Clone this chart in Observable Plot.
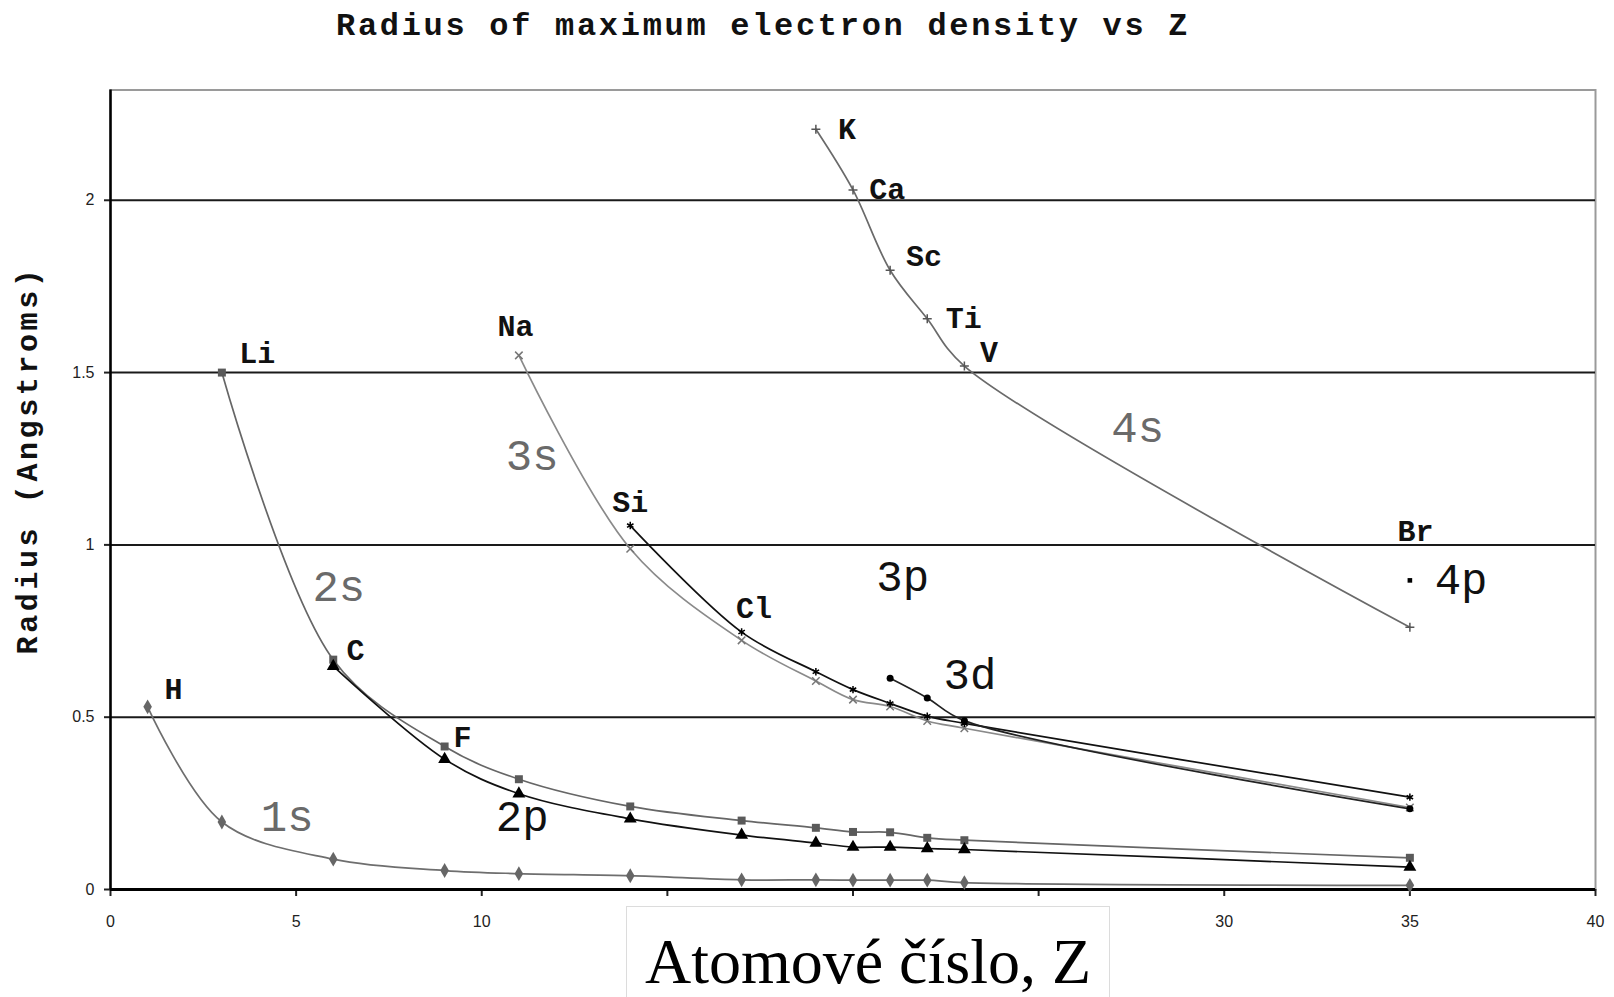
<!DOCTYPE html>
<html><head><meta charset="utf-8">
<script src="https://cdn.jsdelivr.net/npm/d3@7"></script>
<script src="https://cdn.jsdelivr.net/npm/@observablehq/plot@0.6"></script>
<style>
html,body{margin:0;padding:0;background:#fff;}
#wrap{position:relative;width:1614px;height:997px;overflow:hidden;background:#fff;}
#chart{position:absolute;left:0;top:60px;z-index:0;}
#title{position:absolute;z-index:2;left:336px;top:11px;font:bold 32px "Liberation Mono",monospace;line-height:32px;letter-spacing:2.7px;white-space:nowrap;color:#111;}
#ylab{position:absolute;z-index:2;left:29px;top:460px;transform:translate(-50%,-50%) rotate(-90deg);font:bold 30px "Liberation Mono",monospace;line-height:30px;letter-spacing:3.6px;white-space:nowrap;color:#111;}
#xbox{position:absolute;z-index:3;left:626px;top:906px;width:484px;height:95px;box-sizing:border-box;border:1px solid #dcdcdc;background:#fff;}
#xlab{position:absolute;left:0;top:23px;width:100%;text-align:center;font:64px "Liberation Serif",serif;line-height:64px;white-space:nowrap;color:#000;}
</style></head>
<body>
<div id="wrap">
  <div id="chart"></div>
  <div id="title">Radius of maximum electron density vs Z</div>
  <div id="ylab">Radius (Angstroms)</div>
  <div id="xbox"><div id="xlab">Atomové číslo, Z</div></div>
</div>
<script>
// ---- data ----
const z1s = [1, 3, 6, 9, 11, 14, 17, 19, 20, 21, 22, 23, 35];
const r1s = [0.530, 0.196, 0.088, 0.055, 0.046, 0.040, 0.028, 0.028, 0.027, 0.027, 0.027, 0.020, 0.012];

const z2s = [3, 6, 9, 11, 14, 17, 19, 20, 21, 22, 23, 35];
const r2s = [1.500, 0.667, 0.415, 0.320, 0.241, 0.200, 0.179, 0.167, 0.166, 0.150, 0.143, 0.092];

const z2p = [6, 9, 11, 14, 17, 19, 20, 21, 22, 23, 35];
const r2p = [0.648, 0.378, 0.278, 0.205, 0.158, 0.135, 0.123, 0.123, 0.119, 0.116, 0.065];

const z3s = [11, 14, 17, 19, 20, 21, 22, 23, 35];
const r3s = [1.550, 0.989, 0.723, 0.605, 0.551, 0.531, 0.489, 0.468, 0.238];

const z3p = [14, 17, 19, 20, 21, 22, 23, 35];
const r3p = [1.056, 0.747, 0.632, 0.580, 0.540, 0.503, 0.482, 0.268];

const z3d = [21, 22, 23, 35];
const r3d = [0.613, 0.556, 0.490, 0.234];

const z4s = [19, 20, 21, 22, 23, 35];
const r4s = [2.206, 2.030, 1.797, 1.656, 1.519, 0.761];

const z4p = [35];
const r4p = [0.897];

const elementNames = ["H", "Li", "C", "F", "Na", "Si", "Cl", "K", "Ca", "Sc", "Ti", "V", "Br"];
const elementLabelZ = [1.70, 3.95, 6.60, 9.48, 10.91, 14.0, 17.33, 19.84, 20.92, 21.91, 22.98, 23.66, 35.15];
const elementLabelR = [0.580, 1.556, 0.695, 0.442, 1.633, 1.124, 0.816, 2.207, 2.033, 1.836, 1.656, 1.560, 1.040];

const orbitalNames  = ["1s", "2s", "2p", "3s", "3p", "3d", "4s", "4p"];
const orbitalLabelZ = [4.76, 6.15, 11.09, 11.36, 21.34, 23.15, 27.67, 36.38];
const orbitalLabelR = [0.210, 0.877, 0.210, 1.259, 0.907, 0.624, 1.340, 0.897];

const yTicks = [0, 0.5, 1, 1.5, 2];
const xTicks = [0, 5, 10, 15, 20, 25, 30, 35, 40];
const xTicksCovered = [15, 20, 25]; // labels hidden behind the axis-title box in the original

// ---- styles ----
const seriesList = [
  {name: "1s", z: z1s, r: r1s, line: "#6e6e6e", sym: "diamond", mfill: "#666", mstroke: "none", mr: 4.5},
  {name: "2s", z: z2s, r: r2s, line: "#666",    sym: "square",  mfill: "#5a5a5a", mstroke: "none", mr: 4.5},
  {name: "2p", z: z2p, r: r2p, line: "#111",    sym: "triangle",mfill: "#000", mstroke: "none", mr: 4.8},
  {name: "3s", z: z3s, r: r3s, line: "#8a8a8a", sym: "times",   mfill: "none", mstroke: "#777", mr: 3.5},
  {name: "3p", z: z3p, r: r3p, line: "#111",    sym: "asterisk",mfill: "none", mstroke: "#000", mr: 3.5},
  {name: "3d", z: z3d, r: r3d, line: "#222",    sym: "circle",  mfill: "#000", mstroke: "none", mr: 3.5},
  {name: "4s", z: z4s, r: r4s, line: "#6a6a6a", sym: "plus",    mfill: "none", mstroke: "#555", mr: 3},
  {name: "4p", z: z4p, r: r4p, line: "#000",    sym: "square",  mfill: "#000", mstroke: "none", mr: 2.6}
];

const rowsOf = s => s.z.map((Z, i) => ({Z, r: s.r[i], series: s.name}));

const marks = [
  Plot.frame({stroke: "#9a9a9a", strokeWidth: 2}),
  Plot.ruleY([0.5, 1, 1.5, 2], {stroke: "#1a1a1a", strokeWidth: 2}),
  Plot.axisY(yTicks, {tickSize: 6, tickPadding: 10, tickFormat: d => String(d), fontSize: 16, label: null, strokeWidth: 2, color: "#222"}),
  Plot.axisX(xTicks, {tickSize: 7, tickPadding: 19, tickFormat: d => xTicksCovered.includes(d) ? "" : String(d), fontSize: 16, label: null, strokeWidth: 2, color: "#222"}),
  Plot.ruleX([0], {stroke: "#000", strokeWidth: 2.5}),
  Plot.ruleY([0], {stroke: "#000", strokeWidth: 3})
];

for (const s of seriesList) {
  const rows = rowsOf(s);
  if (rows.length > 1) {
    marks.push(Plot.line(rows, {x: "Z", y: "r", stroke: s.line, strokeWidth: 1.7, curve: "catmull-rom"}));
  }
}
for (const s of seriesList) {
  const rows = rowsOf(s);
  marks.push(Plot.dot(rows, {x: "Z", y: "r", symbol: () => s.sym, r: s.mr, fill: s.mfill, stroke: s.mstroke, strokeWidth: 1.5}));
}

const elementRows = elementNames.map((t, i) => ({t, Z: elementLabelZ[i], r: elementLabelR[i]}));
const orbitalRows = orbitalNames.map((t, i) => ({t, Z: orbitalLabelZ[i], r: orbitalLabelR[i], gray: t.endsWith("s")}));

marks.push(Plot.text(elementRows, {x: "Z", y: "r", text: "t", fontFamily: "Liberation Mono", fontWeight: "bold", fontSize: 30, fill: "#111"}));
marks.push(Plot.text(orbitalRows, {x: "Z", y: "r", text: "t", fontFamily: "Liberation Mono", fontSize: 44, fill: d => d.gray ? "#6a6a6a" : "#111"}));

const chart = Plot.plot({
  width: 1614,
  height: 937,
  marginTop: 29.5,
  marginBottom: 108,
  marginLeft: 110,
  marginRight: 19,
  x: {domain: [0, 40]},
  y: {domain: [0, 2.32]},
  style: {fontFamily: "'Liberation Sans', Arial, sans-serif", background: "transparent", overflow: "visible"},
  marks
});
document.getElementById("chart").appendChild(chart);
</script>
</body></html>
